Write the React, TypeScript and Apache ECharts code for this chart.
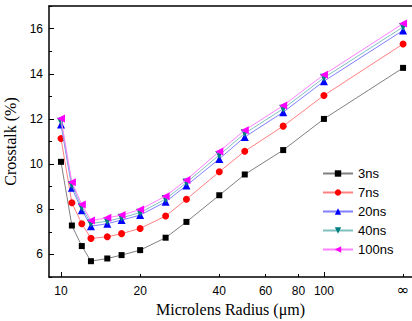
import React, { useEffect, useRef } from "react";
import * as echarts from "echarts";

// ∞ is drawn at this radius position
const INF_POS = 200;

const radii: number[] = [10, 11, 12, 13, 15, 17, 20, 25, 30, 40, 50, 70, 100, INF_POS];

const s3ns: number[] = [10.1, 7.28, 6.37, 5.7, 5.82, 5.97, 6.19, 6.74, 7.44, 8.62, 9.54, 10.62, 12.0, 14.26];
const s7ns: number[] = [11.13, 8.29, 7.36, 6.71, 6.78, 6.92, 7.15, 7.7, 8.44, 9.66, 10.57, 11.68, 13.04, 15.32];
const s20ns: number[] = [11.75, 8.95, 7.96, 7.25, 7.36, 7.52, 7.74, 8.33, 9.05, 10.23, 11.2, 12.3, 13.67, 15.92];
const s40ns: number[] = [11.88, 9.07, 8.08, 7.37, 7.47, 7.62, 7.85, 8.45, 9.18, 10.4, 11.36, 12.45, 13.82, 16.07];
const s100ns: number[] = [12.02, 9.2, 8.21, 7.5, 7.62, 7.74, 7.99, 8.58, 9.3, 10.56, 11.5, 12.59, 13.96, 16.22];

const seriesNames: string[] = ["3ns", "7ns", "20ns", "40ns", "100ns"];

const xMajorTicks: number[] = [10, 100];
const xMinorTicks: number[] = [20, 40, 60, 80, INF_POS];
const xLabelRadii: number[] = [10, 20, 40, 60, 80, 100, INF_POS];
const xLabelTexts: string[] = ["10", "20", "40", "60", "80", "100", "∞"];

const yMajorTicks: number[] = [6, 8, 10, 12, 14, 16];
const yMinorTicks: number[] = [5, 7, 9, 11, 13, 15, 17];

const X_MIN = 0.9544;
const X_MAX = 2.335;
const Y_MIN = 5;
const Y_MAX = 17;

const lg = (r: number) => Math.log10(r);

export default function App() {
  const ref = useRef<HTMLDivElement>(null);
  useEffect(() => {
    if (!ref.current) return;
    const chart = echarts.init(ref.current, undefined, { renderer: "svg" });
    const valueSets = [s3ns, s7ns, s20ns, s40ns, s100ns];
    const markerColors = ["#000000", "#ff0000", "#0000ff", "#008080", "#ff00ff"];
    const lineColors = ["#808080", "#ff8080", "#8080ff", "#80c0c0", "#ff80ff"];
    const symbols = ["rect", "circle", "triangle", "triangle", "triangle"];
    const rotates = [0, 0, 0, 180, 90];
    const sizes = [6, 7, 8, 8, 8];

    const gridBox = { left: 49, right: 0, top: 6, bottom: 44, containLabel: false, outerBoundsMode: "none" };
    const axisColor = "#000";
    const labelFont = { fontFamily: "Liberation Sans, Arial, sans-serif", fontSize: 12, color: "#000" };

    const option: any = {
      animation: false,
      backgroundColor: "#fff",
      grid: [gridBox, { ...gridBox }],
      legend: {
        orient: "vertical",
        left: 322,
        top: 167,
        padding: 0,
        itemWidth: 30,
        itemHeight: 8,
        itemGap: 6,
        data: seriesNames,
        textStyle: { fontFamily: "Liberation Sans, Arial, sans-serif", fontSize: 13, color: "#000", padding: [0, 0, 0, 0] },
      },
      xAxis: [
        {
          gridIndex: 0,
          type: "value",
          position: "bottom",
          min: X_MIN,
          max: X_MAX,
          axisLine: { show: true, onZero: false, lineStyle: { color: axisColor, width: 1.5 } },
          axisTick: { show: true, inside: true, length: 5, lineStyle: { color: axisColor }, customValues: xMajorTicks.map(lg) },
          axisLabel: {
            show: true,
            margin: 8,
            ...labelFont,
            customValues: xLabelRadii.map(lg),
            formatter: (v: number) => {
              let best = 0;
              xLabelRadii.forEach((r, i) => {
                if (Math.abs(lg(r) - v) < Math.abs(lg(xLabelRadii[best]) - v)) best = i;
              });
              const t = xLabelTexts[best];
              return t === "∞" ? "{inf|∞}" : t;
            },
            rich: { inf: { fontSize: 15, fontFamily: "DejaVu Sans, sans-serif", color: "#000", padding: [-3, 0, 0, 0] } },
          },
          splitLine: { show: false },
          name: "Microlens Radius (μm)",
          nameLocation: "middle",
          nameGap: 24,
          nameTextStyle: { fontFamily: "Liberation Serif, Times New Roman, serif", fontSize: 16, color: "#000" },
        },
        {
          gridIndex: 0,
          type: "value",
          position: "top",
          min: X_MIN,
          max: X_MAX,
          axisLine: { show: true, onZero: false, lineStyle: { color: axisColor, width: 1.5 } },
          axisTick: { show: false },
          axisLabel: { show: false },
          splitLine: { show: false },
        },
        {
          gridIndex: 1,
          type: "value",
          position: "bottom",
          min: X_MIN,
          max: X_MAX,
          axisLine: { show: false, onZero: false },
          axisTick: { show: true, inside: true, length: 3, lineStyle: { color: axisColor }, customValues: xMinorTicks.map(lg) },
          axisLabel: { show: false },
          splitLine: { show: false },
        },
      ],
      yAxis: [
        {
          gridIndex: 0,
          type: "value",
          position: "left",
          min: Y_MIN,
          max: Y_MAX,
          axisLine: { show: true, onZero: false, lineStyle: { color: axisColor, width: 1.5 } },
          axisTick: { show: true, inside: true, length: 5, lineStyle: { color: axisColor }, customValues: yMajorTicks },
          axisLabel: { show: true, margin: 6, ...labelFont, customValues: yMajorTicks, formatter: (v: number) => String(v) },
          splitLine: { show: false },
          name: "Crosstalk (%)",
          nameLocation: "middle",
          nameGap: 25,
          nameTextStyle: { fontFamily: "Liberation Serif, Times New Roman, serif", fontSize: 16, color: "#000" },
        },
        {
          gridIndex: 1,
          type: "value",
          position: "left",
          min: Y_MIN,
          max: Y_MAX,
          axisLine: { show: false, onZero: false },
          axisTick: { show: true, inside: true, length: 3, lineStyle: { color: axisColor }, customValues: yMinorTicks },
          axisLabel: { show: false },
          splitLine: { show: false },
        },
      ],
      series: seriesNames.map((name, i) => ({
        name,
        type: "line",
        xAxisIndex: 0,
        yAxisIndex: 0,
        data: radii.map((r, j) => [lg(r), valueSets[i][j]]),
        symbol: symbols[i],
        symbolSize: sizes[i],
        symbolRotate: rotates[i],
        showSymbol: true,
        showAllSymbol: true,
        lineStyle: { color: lineColors[i], width: 1 },
        itemStyle: { color: markerColors[i] },
        emphasis: { disabled: true },
        z: 2 + i,
      })),
    };
    chart.setOption(option);
    return () => chart.dispose();
  }, []);
  return (
    <div
      ref={ref}
      style={{ position: "fixed", left: 0, top: 0, width: 412, height: 321 }}
    />
  );
}
